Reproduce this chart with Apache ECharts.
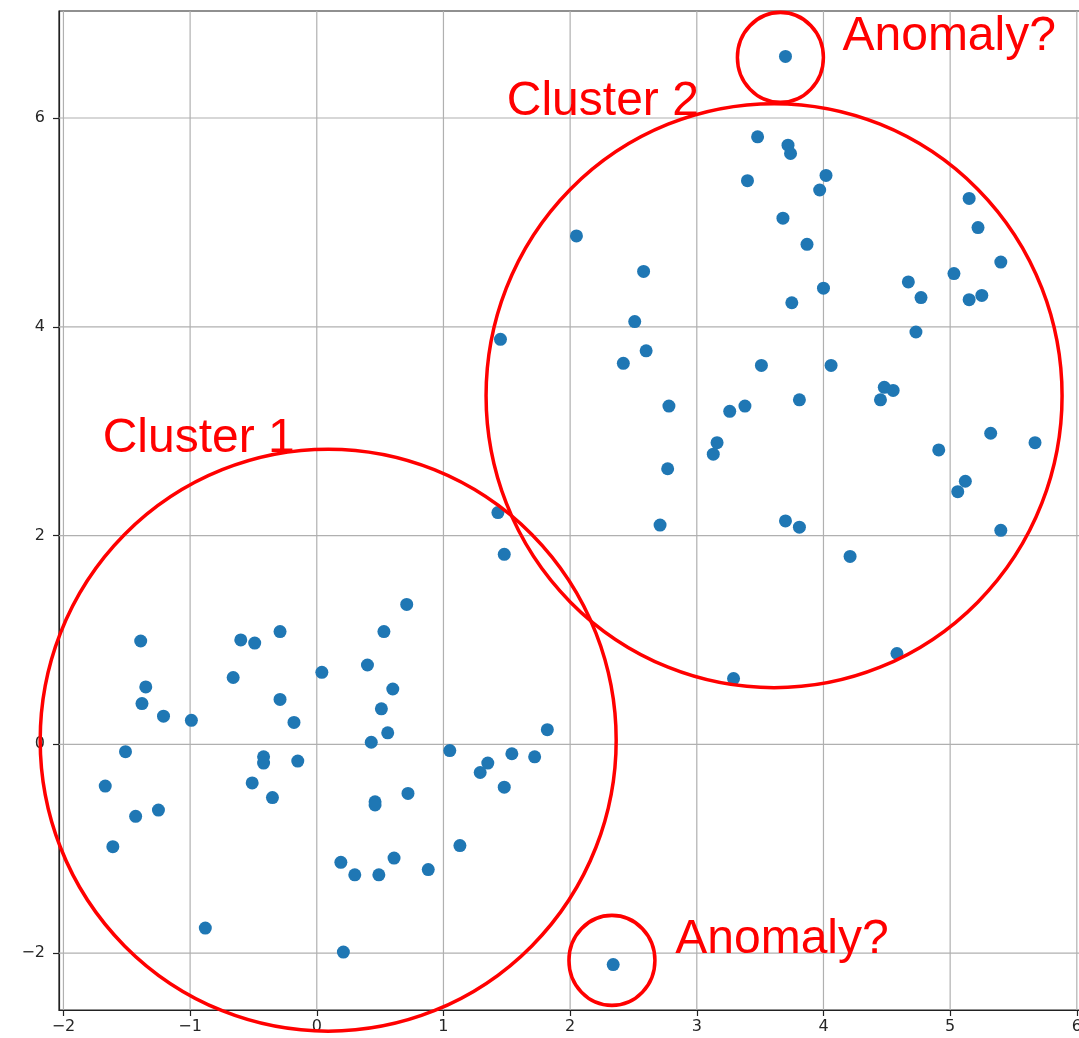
<!DOCTYPE html>
<html>
<head>
<meta charset="utf-8">
<script src="https://cdn.jsdelivr.net/npm/echarts@6/dist/echarts.min.js"></script>
<style>
  html, body { margin: 0; padding: 0; background: #ffffff; }
  #chart { width: 1079px; height: 1038px; }
</style>
</head>
<body>
<div id="chart"></div>
<script>
// Observations (x, y)
const xValues = [
  -1.67, -1.61, -1.51, -1.39, -1.35, -1.38, -1.21, -0.99, -1.43, -1.25,
  -0.88, -0.66, -0.60, -0.49, -0.29, -0.29, -0.18, -0.15, -0.51, -0.42,
  -0.42, -0.35, 0.04, 0.40, 0.53, 0.71, 0.60, 0.51, 0.56, 0.43,
  0.46, 0.46, 0.72, 0.19, 0.30, 0.49, 0.61, 0.88, 1.13, 0.21,
  1.05, 1.35, 1.29, 1.54, 1.72, 1.82, 1.48, 1.43, 1.48, 3.29,
  4.58, 4.21, 3.70, 2.34, 3.48, 3.72, 3.74, 3.40, 4.02, 3.97,
  3.68, 3.87, 4.00, 3.75, 5.15, 5.22, 5.40, 5.03, 4.67, 4.77,
  5.15, 5.25, 4.73, 2.05, 2.58, 2.51, 2.60, 2.42, 1.45, 3.51,
  4.06, 2.78, 3.26, 3.38, 3.81, 4.48, 4.55, 4.45, 3.16, 3.13,
  2.77, 2.71, 5.32, 5.67, 4.91, 5.12, 5.06, 3.70, 3.81, 5.40
];
const yValues = [
  -0.40, -0.98, -0.07, 0.99, 0.55, 0.39, 0.27, 0.23, -0.69, -0.63,
  -1.76, 0.64, 1.00, 0.97, 1.08, 0.43, 0.21, -0.16, -0.37, -0.12,
  -0.18, -0.51, 0.69, 0.76, 1.08, 1.34, 0.53, 0.34, 0.11, 0.02,
  -0.55, -0.58, -0.47, -1.13, -1.25, -1.25, -1.09, -1.20, -0.97, -1.99,
  -0.06, -0.18, -0.27, -0.09, -0.12, 0.14, -0.41, 2.22, 1.82, 0.63,
  0.87, 1.80, 6.59, -2.11, 5.82, 5.74, 5.66, 5.40, 5.45, 5.31,
  5.04, 4.79, 4.37, 4.23, 5.23, 4.95, 4.62, 4.51, 4.43, 4.28,
  4.26, 4.30, 3.95, 4.87, 4.53, 4.05, 3.77, 3.65, 3.88, 3.63,
  3.63, 3.24, 3.19, 3.24, 3.30, 3.42, 3.39, 3.30, 2.89, 2.78,
  2.64, 2.10, 2.98, 2.89, 2.82, 2.52, 2.42, 2.14, 2.08, 2.05
];

// Axis ticks
const xTicks = [-2, -1, 0, 1, 2, 3, 4, 5, 6];
const yTicks = [-2, 0, 2, 4, 6];

// Annotation rings: centres in data units
const ringX = [0.09, 3.61, 3.66, 2.33];
const ringY = [0.04, 3.34, 6.58, -2.07];

// Annotation texts and their left/middle anchors in data units
const noteTexts = ['Cluster 1', 'Cluster 2', 'Anomaly?', 'Anomaly?'];
const noteX = [-1.69, 1.50, 4.15, 2.83];
const noteY = [2.93, 6.16, 6.78, -1.87];

// Ring radii on screen (px)
const ringRx = [288, 288, 43, 43];
const ringRy = [291, 292, 45, 45];

const RED = '#ff0000';
const fmt = v => String(v).replace('-', '\u2212');

const chart = echarts.init(document.getElementById('chart'), null, { renderer: 'canvas' });

const points = xValues.map((x, i) => [x, yValues[i]]);

chart.setOption({
  animation: false,
  backgroundColor: '#ffffff',
  grid: {
    left: 59, top: 11, width: 1022, height: 999,
    containLabel: false, outerBoundsMode: 'none',
    show: true, borderColor: '#222222', borderWidth: 1.2, backgroundColor: '#ffffff'
  },
  xAxis: {
    type: 'value', min: -2.035, max: 6.033,
    axisLine: { show: true, onZero: false, lineStyle: { color: '#222222', width: 1.2 } },
    axisTick: { show: true, customValues: xTicks, length: 6, lineStyle: { color: '#222222', width: 1.2 } },
    axisLabel: {
      customValues: xTicks, margin: 9, formatter: fmt,
      color: '#262626', fontSize: 16, fontFamily: 'DejaVu Sans'
    },
    splitLine: { show: false }
  },
  yAxis: {
    type: 'value', min: -2.545, max: 7.025,
    axisLine: { show: true, onZero: false, lineStyle: { color: '#222222', width: 1.2 } },
    axisTick: { show: true, customValues: yTicks, length: 6, lineStyle: { color: '#222222', width: 1.2 } },
    axisLabel: {
      customValues: yTicks, margin: 14, formatter: fmt,
      color: '#262626', fontSize: 16, fontFamily: 'DejaVu Sans'
    },
    splitLine: { show: false }
  },
  series: [
    {
      // vertical grid lines at x ticks
      type: 'custom', z: 1, silent: true,
      data: xTicks.map(v => [v]),
      encode: { x: 0 },
      renderItem: (params, api) => {
        const cs = params.coordSys;
        const px = api.coord([api.value(0), 0])[0];
        return {
          type: 'line',
          shape: { x1: px, y1: cs.y, x2: px, y2: cs.y + cs.height },
          style: { stroke: '#b0b0b0', lineWidth: 1.2 }
        };
      }
    },
    {
      // horizontal grid lines at y ticks
      type: 'custom', z: 1, silent: true,
      data: yTicks.map(v => [0, v]),
      encode: { y: 1 },
      renderItem: (params, api) => {
        const cs = params.coordSys;
        const py = api.coord([0, api.value(1)])[1];
        return {
          type: 'line',
          shape: { x1: cs.x, y1: py, x2: cs.x + cs.width, y2: py },
          style: { stroke: '#b0b0b0', lineWidth: 1.2 }
        };
      }
    },
    {
      type: 'scatter', z: 3,
      data: points,
      symbol: 'circle', symbolSize: 13,
      itemStyle: { color: '#1f77b4', opacity: 1 }
    },
    {
      // red rings around clusters and outliers
      type: 'custom', z: 5, silent: true, clip: false,
      data: ringX.map((x, i) => [x, ringY[i]]),
      renderItem: (params, api) => {
        const i = params.dataIndex;
        const c = api.coord([api.value(0), api.value(1)]);
        return {
          type: 'circle',
          x: c[0], y: c[1],
          scaleY: ringRy[i] / ringRx[i],
          shape: { cx: 0, cy: 0, r: ringRx[i] },
          style: { fill: 'none', stroke: RED, lineWidth: 3.5 }
        };
      }
    },
    {
      // annotation texts
      type: 'custom', z: 6, silent: true, clip: false,
      data: noteX.map((x, i) => [x, noteY[i]]),
      renderItem: (params, api) => {
        const i = params.dataIndex;
        const c = api.coord([api.value(0), api.value(1)]);
        return {
          type: 'text',
          x: c[0], y: c[1],
          style: {
            text: noteTexts[i], fill: RED,
            fontSize: 48, fontFamily: '"Liberation Sans", Arial, sans-serif',
            align: 'left', verticalAlign: 'middle'
          }
        };
      }
    }
  ]
});
</script>
</body>
</html>
